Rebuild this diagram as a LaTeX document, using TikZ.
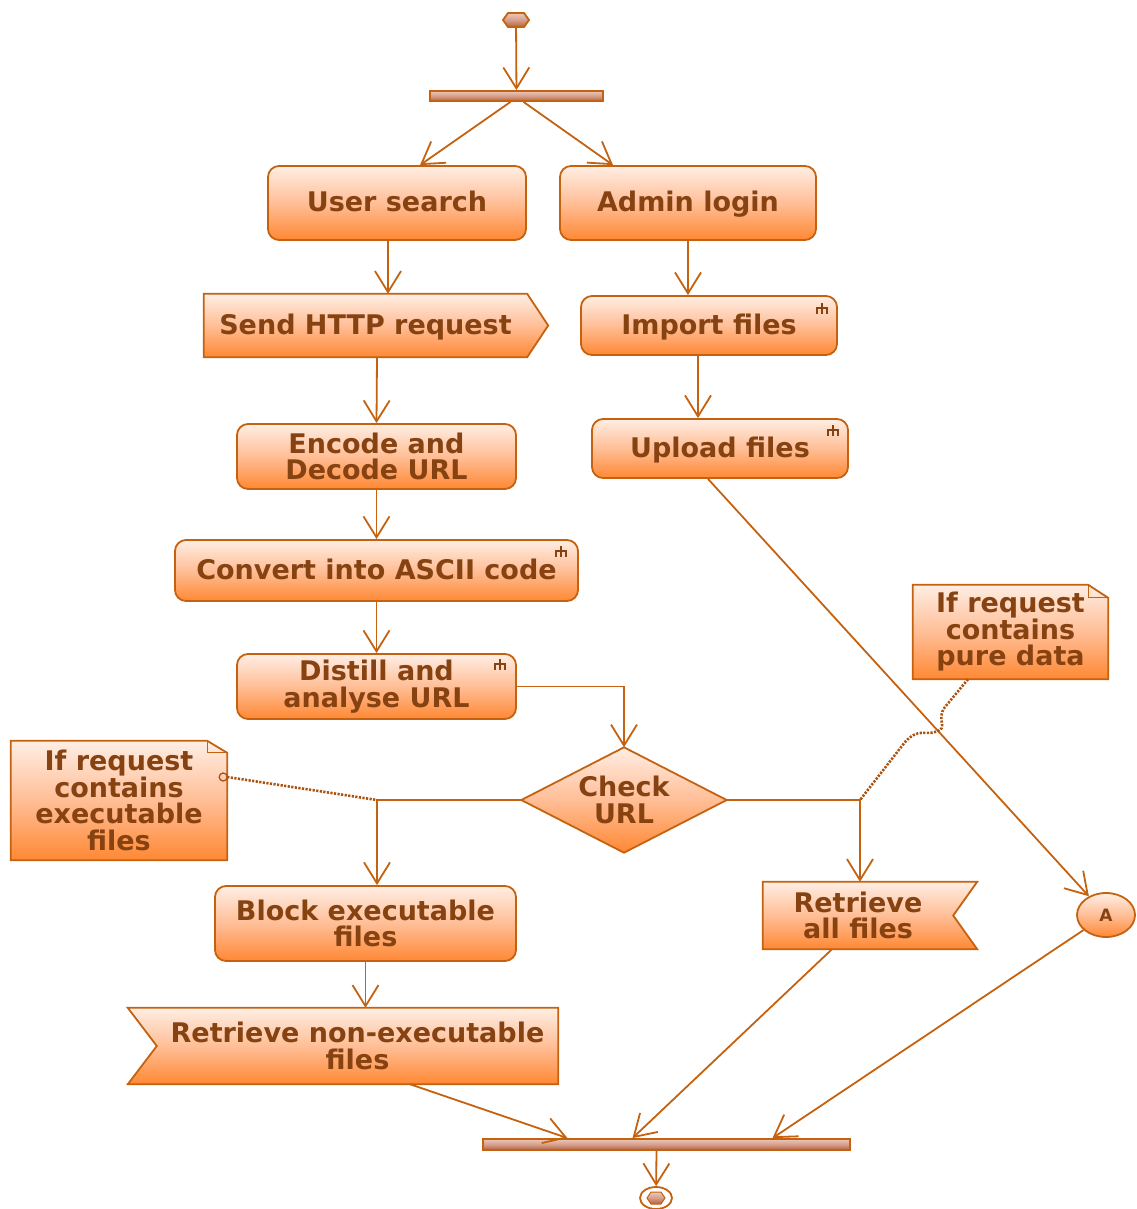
\documentclass[tikz,border=0pt]{standalone}
\usepackage{fontspec}
\setmainfont{DejaVu Sans}
\usetikzlibrary{arrows.meta,calc,shapes.geometric,backgrounds}

\definecolor{umlline}{RGB}{196,98,16}
\definecolor{umltext}{RGB}{135,66,18}
\definecolor{fillTop}{RGB}{255,238,228}
\definecolor{fillMid}{RGB}{255,190,150}
\definecolor{fillBot}{RGB}{255,136,52}
\definecolor{barTop}{RGB}{236,200,186}
\definecolor{barMid}{RGB}{214,158,138}
\definecolor{barBot}{RGB}{178,98,66}
\definecolor{dotline}{RGB}{170,82,14}

\newcommand\actfont{\bfseries\fontsize{27}{26.5}\selectfont}

\tikzset{
  body/.style={inner sep=0pt, align=center, font=\actfont, text=umltext},
  oneline/.style={text height=23pt, text depth=6pt},
  action/.style={body, draw=umlline, line width=1.8pt, rounded corners=11pt,
    top color=fillTop, bottom color=fillBot, middle color=fillMid},
  shapefill/.style={draw=umlline, line width=1.8pt, line join=miter,
    top color=fillTop, bottom color=fillBot, middle color=fillMid},
  barfill/.style={draw=umlline, line width=1.8pt, inner sep=0pt,
    top color=barTop, bottom color=barBot, middle color=barMid},
  flow/.style={draw=umlline, line width=1.8pt,
    -{Straight Barb[length=21pt,width=26pt,line width=1.8pt]}},
  notelink/.style={draw=dotline, line width=2.6pt, dash pattern=on 2.2pt off 1.4pt},
  rake/.pic={\draw[umltext, line width=1.3pt] (0,-6) -- (0,5)
      (-5,5) -- (-5,-1) -- (5,-1) -- (5,5);},
}

\begin{document}
\begin{tikzpicture}[x=1pt,y=-1pt]
\useasboundingbox (0,0) rectangle (1136,1209);

% ---------- initial node and fork ----------
\node[inner sep=0pt, minimum width=26pt, minimum height=14pt] (start) at (516,20) {};
\path[barfill] (503,20) -- (508,13) -- (524,13) -- (529,20) -- (524,27) -- (508,27) -- cycle;
\node[barfill, minimum width=173pt, minimum height=10pt] (fork) at (516.5,96) {};

% ---------- actions ----------
\node[action, oneline, minimum width=258pt, minimum height=74pt] (user) at (397,203) {User search};
\node[action, oneline, minimum width=256pt, minimum height=74pt] (admin) at (688,203) {Admin login};

\node[body, oneline, minimum width=323pt, minimum height=63pt] (send) at (365.5,325.5) {Send HTTP request};
\begin{scope}[on background layer]
  \path[shapefill] (send.north west) -- (send.north east) -- ($(send.east)+(21,0)$)
    -- (send.south east) -- (send.south west) -- cycle;
\end{scope}

\node[action, oneline, minimum width=256pt, minimum height=59pt] (import) at (709,325.5) {Import files};
\node[action, oneline, minimum width=256pt, minimum height=59pt] (upload) at (720,448.5) {Upload files};
\node[action, minimum width=279pt, minimum height=65pt] (encode) at (376.5,456.5) {Encode and\\Decode URL};
\node[action, oneline, minimum width=403pt, minimum height=61pt] (convert) at (376.5,570.5) {Convert into ASCII code};
\node[action, minimum width=279pt, minimum height=65pt] (distill) at (376.5,686.5) {Distill and\\analyse URL};

\pic at (822,309) {rake};
\pic at (833,431) {rake};
\pic at (561,552) {rake};
\pic at (500,665) {rake};

% ---------- decision ----------
\node[body, minimum width=205pt, minimum height=105pt] (check) at (624,800) {Check\\URL};
\begin{scope}[on background layer]
  \path[shapefill] (check.north) -- (check.east) -- (check.south) -- (check.west) -- cycle;
\end{scope}

% ---------- notes ----------
\node[body, minimum width=216pt, minimum height=119pt] (noteL) at (119,800.5)
  {If request\\contains\\executable\\files};
\node[body, minimum width=195pt, minimum height=94pt] (noteR) at (1010.5,632)
  {If request\\contains\\pure data};
\begin{scope}[on background layer]
  \path[shapefill] (noteL.south west) -- (noteL.north west) -- ($(noteL.north east)+(-20,0)$)
    -- ($(noteL.north east)+(0,12)$) -- (noteL.south east) -- cycle;
  \draw[umlline, line width=1.3pt] ($(noteL.north east)+(-20,0)$) -- ++(0,12) -- ++(20,0);
  \path[shapefill] (noteR.south west) -- (noteR.north west) -- ($(noteR.north east)+(-20,0)$)
    -- ($(noteR.north east)+(0,13)$) -- (noteR.south east) -- cycle;
  \draw[umlline, line width=1.3pt] ($(noteR.north east)+(-20,0)$) -- ++(0,13) -- ++(20,0);
\end{scope}

% ---------- lower actions ----------
\node[action, minimum width=301pt, minimum height=75pt] (block) at (365.5,923.5) {Block executable\\files};

\node[body, minimum width=190pt, minimum height=67pt] (rall) at (858,915.5) {Retrieve\\all files};
\node[body, minimum width=401pt, minimum height=76pt] (rnon) at (357.5,1046) {Retrieve non-executable\\files};
\begin{scope}[on background layer]
  \path[shapefill] (rall.north west) -- ($(rall.north east)+(24,0)$) -- (rall.east)
    -- ($(rall.south east)+(24,0)$) -- (rall.south west) -- cycle;
  \path[shapefill] ($(rnon.north west)+(-29,0)$) -- (rnon.north east) -- (rnon.south east)
    -- ($(rnon.south west)+(-29,0)$) -- (rnon.west) -- cycle;
\end{scope}

\node[ellipse, draw=umlline, line width=1.8pt, inner sep=0pt, minimum width=58pt,
  minimum height=44pt, top color=fillTop, bottom color=fillBot, middle color=fillMid,
  text=umltext, font=\bfseries\fontsize{17}{17}\selectfont] (A) at (1106,915) {A};

% ---------- join and final node ----------
\node[barfill, minimum width=367pt, minimum height=11pt] (join) at (666.5,1144.5) {};
\node[ellipse, draw=umlline, line width=1.8pt, inner sep=0pt, minimum width=32pt,
  minimum height=22pt] (end) at (656,1198) {};
\path[barfill, line width=1pt] (647,1198) -- (651,1192) -- (661,1192) -- (665,1198)
  -- (661,1204) -- (651,1204) -- cycle;

% ---------- control flows ----------
\draw[flow] (start) -- (fork);
\draw[flow] ([xshift=-6]fork.south) -- ([xshift=23]user.north);
\draw[flow] ([xshift=7]fork.south) -- ([xshift=-75]admin.north);
\draw[flow] ([xshift=-9]user.south) -- ([xshift=22.5]send.north);
\draw[flow] (admin.south) -- ([xshift=-21]import.north);
\draw[flow] ([xshift=11.5]send.south) -- (encode.north);
\draw[flow] ([xshift=-11]import.south) -- ([xshift=-22]upload.north);
\draw[flow] (encode) -- (convert);
\draw[flow] (convert) -- (distill);
\draw[flow] (distill.east) -| (check.north);
\draw[flow] (check.west) -| ([xshift=11.5]block.north);
\draw[flow] (check.east) -| ([xshift=2]rall.north);
\draw[flow] ([xshift=-12]upload.south) -- (A);
\draw[flow] (block.south) -- (block.south |- rnon.north);
\draw[flow] ([xshift=52.5]rnon.south) -- ([xshift=-99]join.north);
\draw[flow] ([xshift=-26]rall.south) -- ([xshift=-34]join.north);
\draw[flow] (A) -- ([xshift=106]join.north);
\draw[flow] ([xshift=-10]join.south) -- (end);

% ---------- note anchors ----------
\coordinate (leftfork) at ([xshift=11.5]block.north |- check.west);
\coordinate (rightfork) at ([xshift=2]rall.north |- check.east);
\draw[dotline, line width=1.3pt] ([shift={(-4,-23.5)}]noteL.east) circle (4pt);
\draw[notelink] ([shift={(0,-23.5)}]noteL.east) -- (leftfork);
\draw[notelink] ([xshift=-42.5]noteR.south) -- (945,707) .. controls (935,720) and (950,728) .. (935,732)
  .. controls (925,735) and (918,728) .. (905,742) -- (rightfork);

\end{tikzpicture}
\end{document}
